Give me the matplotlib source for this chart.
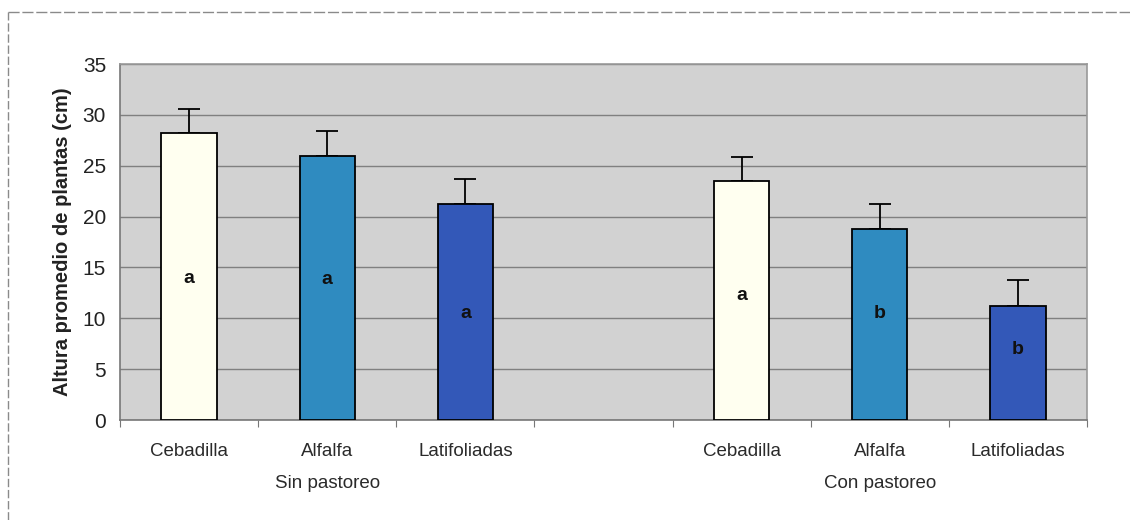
import matplotlib
matplotlib.use("Agg")
import matplotlib.pyplot as plt
from matplotlib.lines import Line2D
import numpy as np

plt.rcParams['font.family'] = ['Liberation Sans', 'DejaVu Sans']

# Plant height by species, without and with grazing
species = ["Cebadilla", "Alfalfa", "Latifoliadas"]
groups = ["Sin pastoreo", "Con pastoreo"]
heights_sin = [28.2, 26.0, 21.2]
heights_con = [23.5, 18.8, 11.2]
errors_sin = [2.4, 2.4, 2.5]
errors_con = [2.4, 2.4, 2.6]
letters_sin = ["a", "a", "a"]
letters_con = ["a", "b", "b"]
letter_y_sin = [13.9, 13.8, 10.5]
letter_y_con = [12.2, 10.5, 6.9]
colors = ["#FFFFF0", "#2F8BC0", "#3358B8"]
yticks = [0, 5, 10, 15, 20, 25, 30, 35]

fig = plt.figure(figsize=(11.3, 5.2), dpi=100)
ax = fig.add_axes([120 / 1130, 1 - 420 / 520, (1087 - 120) / 1130, (420 - 64) / 520])

pos_sin = np.arange(3)
pos_con = np.arange(3) + 4
positions = list(pos_sin) + list(pos_con)
heights = heights_sin + heights_con
errors = errors_sin + errors_con
letters = letters_sin + letters_con
letter_y = letter_y_sin + letter_y_con

ax.set_facecolor("#D2D2D2")
ax.bar(positions, heights, width=0.4, color=colors * 2, edgecolor="black",
       linewidth=1.3, zorder=3)
ax.errorbar(positions, heights, yerr=[[0] * 6, errors], fmt="none",
            ecolor="black", elinewidth=1.3, capsize=8, capthick=1.3, zorder=2)

for x, y, t in zip(positions, letter_y, letters):
    ax.text(x, y, t, ha="center", va="center", fontsize=14,
            fontweight="bold", color="#111111", zorder=4)

ax.set_xlim(-0.5, 6.5)
ax.set_ylim(0, 35)
ax.set_yticks(yticks)
ax.tick_params(axis="y", labelsize=15, length=0, pad=10, colors="#222222")
ax.yaxis.grid(True, color="#808080", linewidth=1.0, zorder=0)
ax.set_axisbelow(True)

# Category tick marks between the slots, labels below
ax.set_xticks(np.arange(-0.5, 7.0, 1.0))
ax.set_xticklabels([])
ax.tick_params(axis="x", length=5, direction="out", color="#777777")

for x, name in zip(positions, species * 2):
    ax.text(x, -2.3, name, ha="center", va="top", fontsize=13.5, color="#2A2A2A")
for x, g in zip([1, 5], groups):
    ax.text(x, -5.4, g, ha="center", va="top", fontsize=13.5, color="#2A2A2A")

for side in ["top", "right"]:
    ax.spines[side].set_color("#999999")
ax.spines["left"].set_color("#777777")
ax.spines["bottom"].set_color("#777777")
for s in ax.spines.values():
    s.set_linewidth(1.2)

ax.set_ylabel("Altura promedio de plantas (cm)", fontsize=14.5,
              fontweight="bold", color="#222222", labelpad=8)

# Outer frame on the top and left edges
fig.add_artist(Line2D([8 / 1130, 1.0], [1 - 12 / 520, 1 - 12 / 520],
                      transform=fig.transFigure, color="#8A8A8A", linewidth=1.0,
                      linestyle=(0, (8, 2))))
fig.add_artist(Line2D([8 / 1130, 8 / 1130], [0, 1 - 12 / 520],
                      transform=fig.transFigure, color="#8A8A8A", linewidth=1.0,
                      linestyle=(0, (6, 2))))

fig.savefig("out.png", dpi=100, facecolor="white")
